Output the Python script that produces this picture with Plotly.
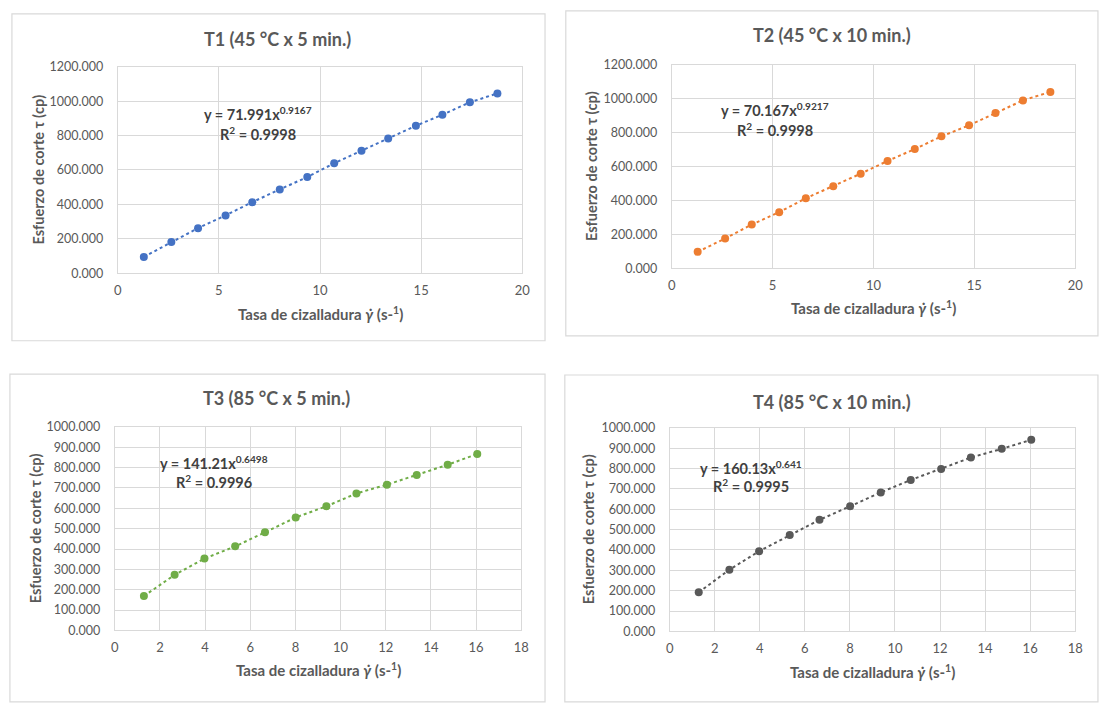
import plotly.graph_objects as go

W, H = 1101, 704

# ---------------- data ----------------
shear_rate = [1.29, 2.65, 3.97, 5.33, 6.65, 8.01, 9.37, 10.70, 12.05, 13.37, 14.74, 16.05, 17.41, 18.77]
t1_stress = [95, 182, 262, 336, 413, 487, 559, 639, 711, 783, 857, 921, 993, 1045]
t2_stress = [97, 176, 258, 331, 413, 484, 558, 633, 703, 778, 843, 915, 990, 1040]
t3_stress = [169, 273, 353, 413, 482, 555, 610, 673, 716, 764, 814, 867]
t4_stress = [192, 303, 394, 474, 548, 615, 683, 744, 798, 854, 897, 941]

titles = ["T1 (45 °C x 5 min.)", "T2 (45 °C x 10 min.)", "T3 (85 °C x 5 min.)", "T4 (85 °C x 10 min.)"]
equations = ["y = 71.991x<sup>0.9167</sup>", "y = 70.167x<sup>0.9217</sup>",
             "y = 141.21x<sup>0.6498</sup>", "y = 160.13x<sup>0.641</sup>"]
r2_labels = ["R<sup>2</sup> = 0.9998", "R<sup>2</sup> = 0.9998", "R<sup>2</sup> = 0.9996", "R<sup>2</sup> = 0.9995"]
colors = ["#4472C4", "#ED7D31", "#70AD47", "#595959"]
x_title = "Tasa de cizalladura <i>γ̇</i> (s-<sup>1</sup>)"
y_title = "Esfuerzo de corte τ (cp)"

series = [t1_stress, t2_stress, t3_stress, t4_stress]

# ---------------- layout geometry (pixels) ----------------
plot_boxes = [(115, 524, 60, 271), (675, 1083, 58, 266), (112, 523, 428, 636), (673, 1083, 429, 637)]
frames = [(8, 6, 547, 340), (568, 3, 1106, 335), (6, 374, 547, 709), (567, 375, 1106, 709)]
title_pos = [(277, 32), (837, 28), (276, 399), (837, 403)]
eq_pos = [(257, 108, 128), (779, 104, 124), (212, 464, 484), (755, 469, 488)]
ytitle_x = [35, 594, 32, 591]
xtitle_y = [312, 306, 676, 678]
x_ranges = [(0, 20, 5), (0, 20, 5), (0, 18, 2), (0, 18, 2)]
y_ranges = [(0, 1200, 200), (0, 1200, 200), (0, 1000, 100), (0, 1000, 100)]

FONT = "Lato"
GRAY = "#595959"
GRID = "#d9d9d9"

def fx(p):
    return p / W

def fy(p):
    return 1 - p / H

fig = go.Figure()
annotations = []
shapes = []
layout_axes = {}

for i in range(4):
    n = len(series[i])
    xs = shear_rate[:n]
    xa = "x" if i == 0 else f"x{i+1}"
    ya = "y" if i == 0 else f"y{i+1}"
    fig.add_trace(go.Scatter(
        x=xs, y=series[i], mode="lines+markers", xaxis=xa, yaxis=ya,
        line=dict(color=colors[i], width=2, dash="dot"),
        marker=dict(color=colors[i], size=8),
        showlegend=False, hoverinfo="x+y"))

    l, r, t, b = plot_boxes[i]
    xkey = "xaxis" if i == 0 else f"xaxis{i+1}"
    ykey = "yaxis" if i == 0 else f"yaxis{i+1}"
    x0, x1, dx = x_ranges[i]
    y0, y1, dy = y_ranges[i]
    layout_axes[xkey] = dict(
        domain=[fx(l), fx(r)], range=[x0, x1], dtick=dx, tick0=0, anchor=ya,
        showgrid=True, gridcolor=GRID, gridwidth=1, zeroline=False,
        showline=True, linecolor=GRID, linewidth=1, mirror=True,
        ticks="", tickfont=dict(family=FONT, size=13, color=GRAY),
        ticklabelstandoff=5, fixedrange=True)
    layout_axes[ykey] = dict(
        domain=[fy(b), fy(t)], range=[y0, y1], dtick=dy, tick0=0, anchor=xa,
        tickformat=".3f",
        showgrid=True, gridcolor=GRID, gridwidth=1, zeroline=False,
        showline=True, linecolor=GRID, linewidth=1, mirror=True,
        ticks="", tickfont=dict(family=FONT, size=12.5, color=GRAY),
        ticklabelstandoff=11, fixedrange=True)

    # frame
    fx0, fy0, fx1, fy1 = frames[i]
    shapes.append(dict(type="rect", xref="paper", yref="paper",
                       x0=fx(fx0), x1=fx(fx1), y0=fy(fy1), y1=fy(fy0),
                       line=dict(color=GRID, width=1.2), fillcolor="rgba(0,0,0,0)", layer="below"))

    # title
    tx, ty = title_pos[i]
    annotations.append(dict(text=titles[i], x=fx(tx), y=fy(ty), xref="paper", yref="paper",
                            xanchor="center", yanchor="middle", showarrow=False,
                            font=dict(family=FONT, size=18, color=GRAY, weight="bold")))
    # equation
    ex, ey1, ey2 = eq_pos[i]
    annotations.append(dict(text=equations[i], x=fx(ex), y=fy(ey1), xref="paper", yref="paper",
                            xanchor="center", yanchor="middle", showarrow=False,
                            font=dict(family=FONT, size=14.5, color="#404040", weight="bold")))
    annotations.append(dict(text=r2_labels[i], x=fx(ex), y=fy(ey2), xref="paper", yref="paper",
                            xanchor="center", yanchor="middle", showarrow=False,
                            font=dict(family=FONT, size=14.5, color="#404040", weight="bold")))
    # axis titles
    annotations.append(dict(text=y_title, x=fx(ytitle_x[i]), y=fy((t + b) / 2),
                            xref="paper", yref="paper", textangle=-90,
                            xanchor="center", yanchor="middle", showarrow=False,
                            font=dict(family=FONT, size=14.5, color=GRAY, weight="bold")))
    annotations.append(dict(text=x_title, x=fx((l + r) / 2), y=fy(xtitle_y[i]),
                            xref="paper", yref="paper",
                            xanchor="center", yanchor="middle", showarrow=False,
                            font=dict(family=FONT, size=15, color=GRAY, weight="bold")))

fig.update_layout(
    width=W, height=H, margin=dict(l=0, r=0, t=0, b=0),
    paper_bgcolor="white", plot_bgcolor="white",
    annotations=annotations, shapes=shapes, **layout_axes)

fig.write_html("out.html", config={"displayModeBar": False},
               post_script="document.body.style.margin='0';document.body.style.overflow='hidden';")
